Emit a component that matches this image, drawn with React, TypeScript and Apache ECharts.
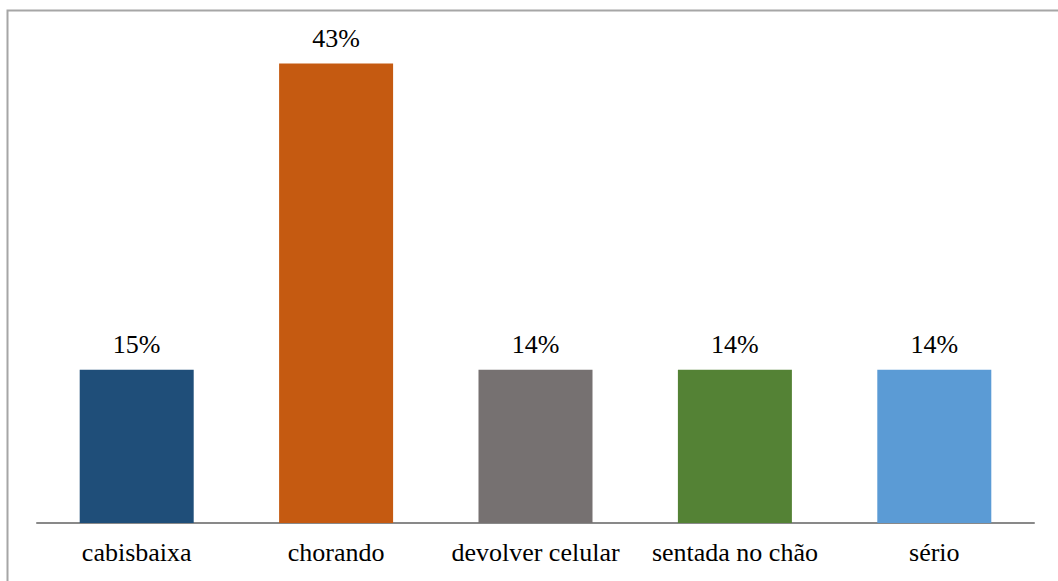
import React, { useEffect, useRef } from "react";
import * as echarts from "echarts";

const categories = ["cabisbaixa", "chorando", "devolver celular", "sentada no chão", "sério"];
const values = [14.3, 42.9, 14.3, 14.3, 14.3];
const valueLabels = ["15%", "43%", "14%", "14%", "14%"];
const colors = ["#1F4E79", "#C55A11", "#767171", "#548235", "#5B9BD5"];

const FONT = "'Liberation Serif', 'Times New Roman', serif";

export default function App() {
  const ref = useRef<HTMLDivElement>(null);
  useEffect(() => {
    if (!ref.current) return;
    const chart = echarts.init(ref.current, undefined, { renderer: "svg" });
    chart.setOption({
      animation: false,
      backgroundColor: "#ffffff",
      textStyle: { fontFamily: FONT },
      graphic: [
        {
          type: "rect",
          shape: { x: 7.5, y: 10.5, width: 1100, height: 620 },
          style: { fill: "none", stroke: "#A6A6A6", lineWidth: 2 },
          silent: true,
          z: 100,
        },
      ],
      grid: { left: 37, right: 24, top: 41, height: 482, containLabel: false },
      xAxis: {
        type: "category",
        data: categories,
        axisLine: { show: true, lineStyle: { color: "#898989", width: 2 } },
        axisTick: { show: false },
        axisLabel: {
          color: "#000000",
          fontFamily: FONT,
          fontSize: 26,
          margin: 16,
          interval: 0,
        },
      },
      yAxis: {
        type: "value",
        min: 0,
        max: 45,
        show: false,
        splitLine: { show: false },
      },
      series: [
        {
          type: "bar",
          barWidth: 114,
          data: values.map((v, i) => ({ value: v, itemStyle: { color: colors[i] } })),
          label: {
            show: true,
            position: "top",
            distance: 12,
            color: "#000000",
            fontFamily: FONT,
            fontSize: 26,
            formatter: (p: any) => valueLabels[p.dataIndex],
          },
        },
      ],
    });
    return () => chart.dispose();
  }, []);
  return (
    <div
      ref={ref}
      style={{ position: "absolute", left: 0, top: 0, width: 1058, height: 581 }}
    />
  );
}
